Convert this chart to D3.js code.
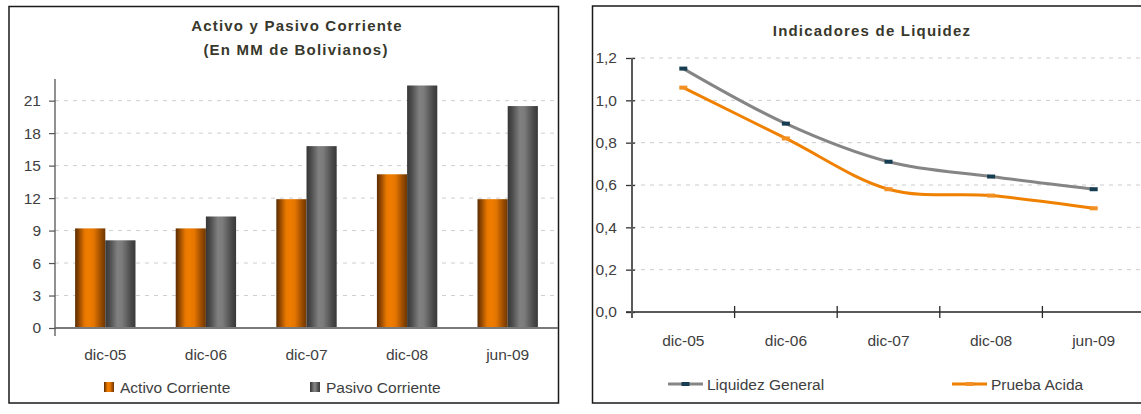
<!DOCTYPE html>
<html>
<head>
<meta charset="utf-8">
<script src="https://cdn.jsdelivr.net/npm/d3@7/dist/d3.min.js"></script>
<style>
  html, body { margin: 0; padding: 0; background: #ffffff; }
  svg { display: block; font-family: "Liberation Sans", Arial, sans-serif; }
</style>
</head>
<body>
<svg id="chart" width="1141" height="414"></svg>
<script>
// Periods shared by both panels
const categories = ["dic-05", "dic-06", "dic-07", "dic-08", "jun-09"];

// Left panel: current assets and liabilities (MM Bs)
const activoCorriente = [9.2, 9.2, 11.9, 14.2, 11.9];
const pasivoCorriente = [8.1, 10.3, 16.8, 22.4, 20.5];
const barTicks = [0, 3, 6, 9, 12, 15, 18, 21];
const barMax = 23;

// Right panel: liquidity ratios
const liquidezGeneral = [1.15, 0.89, 0.71, 0.64, 0.58];
const pruebaAcida = [1.06, 0.82, 0.58, 0.55, 0.49];
const lineTicks = [0, 0.2, 0.4, 0.6, 0.8, 1.0, 1.2];

const svg = d3.select("#chart");
const textColor = "#404040";
const titleColor = "#38382c";
const orange = "#f08000";
const grayLine = "#858585";
const labelSize = 15.5;

// ---------- gradients for the cylinder-like bars ----------
const defs = svg.append("defs");
function hGradient(id, stops) {
  const g = defs.append("linearGradient").attr("id", id)
    .attr("x1", "0%").attr("x2", "100%").attr("y1", "0%").attr("y2", "0%");
  stops.forEach(([o, c]) => g.append("stop").attr("offset", o).attr("stop-color", c));
}
hGradient("gradOrange", [["0%", "#5a2c00"], ["12%", "#8e4600"], ["32%", "#e87800"], ["45%", "#f07d00"], ["62%", "#e47500"], ["85%", "#9a4c00"], ["100%", "#6e3600"]]);
hGradient("gradGray", [["0%", "#363636"], ["15%", "#4c4c4c"], ["40%", "#808080"], ["55%", "#7c7c7c"], ["85%", "#4a4a4a"], ["100%", "#383838"]]);

// ---------- panel frames ----------
svg.append("rect").attr("x", 9).attr("y", 6.5).attr("width", 549.5).attr("height", 396.5)
  .attr("fill", "none").attr("stroke", "#1a1a1a").attr("stroke-width", 1.5);
svg.append("rect").attr("x", 592.5).attr("y", 6).attr("width", 600).attr("height", 397)
  .attr("fill", "none").attr("stroke", "#1a1a1a").attr("stroke-width", 1.5);

// ================= LEFT: grouped bars =================
const left = svg.append("g");
const xL = d3.scaleBand().domain(categories).range([55, 558]).paddingInner(0.4).paddingOuter(0.2);
const xS = d3.scaleBand().domain(["activo", "pasivo"]).range([0, xL.bandwidth()]);
const yL = d3.scaleLinear().domain([0, barMax]).range([328, 79]);

left.append("text").attr("x", 297).attr("y", 31).attr("text-anchor", "middle")
  .attr("font-size", 15).attr("font-weight", "bold").attr("letter-spacing", 1.2)
  .attr("fill", titleColor).text("Activo y Pasivo Corriente");
left.append("text").attr("x", 296).attr("y", 55).attr("text-anchor", "middle")
  .attr("font-size", 15).attr("font-weight", "bold").attr("letter-spacing", 1.2)
  .attr("fill", titleColor).text("(En MM de Bolivianos)");

// dashed gridlines
left.append("g").selectAll("line").data(barTicks.filter(d => d > 0)).join("line")
  .attr("x1", 55).attr("x2", 558)
  .attr("y1", d => yL(d)).attr("y2", d => yL(d))
  .attr("stroke", "#cfcfcf").attr("stroke-width", 1).attr("stroke-dasharray", "4,5");

// bars
const barRows = categories.map((c, i) => ({ c, activo: activoCorriente[i], pasivo: pasivoCorriente[i] }));
const groups = left.append("g").selectAll("g").data(barRows).join("g")
  .attr("transform", d => `translate(${xL(d.c)},0)`);
groups.selectAll("rect").data(d => [
  { key: "activo", v: d.activo },
  { key: "pasivo", v: d.pasivo }
]).join("rect")
  .attr("x", d => xS(d.key)).attr("width", xS.bandwidth())
  .attr("y", d => yL(d.v)).attr("height", d => yL(0) - yL(d.v))
  .attr("fill", d => d.key === "activo" ? "url(#gradOrange)" : "url(#gradGray)");

// baseline
left.append("line").attr("x1", 55).attr("x2", 558).attr("y1", yL(0)).attr("y2", yL(0))
  .attr("stroke", "#7a7a7a").attr("stroke-width", 2);

// y axis
const axL = left.append("g").attr("transform", "translate(55,0)")
  .call(d3.axisLeft(yL).tickValues(barTicks).tickSize(6).tickSizeOuter(0).tickPadding(8));
axL.select(".domain").remove();
axL.selectAll(".tick line").attr("stroke", "#555").attr("stroke-width", 1.2);
axL.selectAll(".tick text").attr("font-size", labelSize).attr("fill", textColor)
  .attr("font-family", "Liberation Sans, Arial, sans-serif");
left.append("line").attr("x1", 55).attr("x2", 55).attr("y1", 79).attr("y2", 336)
  .attr("stroke", "#555").attr("stroke-width", 1.3);

// category labels
left.append("g").selectAll("text").data(categories).join("text")
  .attr("x", d => xL(d) + xL.bandwidth() / 2).attr("y", 360)
  .attr("text-anchor", "middle").attr("font-size", labelSize).attr("fill", textColor).text(d => d);

// legend
const legL = [
  { label: "Activo Corriente", fill: "url(#gradOrange)", x: 104 },
  { label: "Pasivo Corriente", fill: "url(#gradGray)", x: 310 }
];
const lg = left.append("g").selectAll("g").data(legL).join("g");
lg.append("rect").attr("x", d => d.x).attr("y", 382).attr("width", 10).attr("height", 10)
  .attr("fill", d => d.fill);
lg.append("text").attr("x", d => d.x + 16).attr("y", 392.5).attr("font-size", labelSize)
  .attr("fill", textColor).text(d => d.label);

// ================= RIGHT: smoothed lines =================
const right = svg.append("g");
const xR = d3.scaleBand().domain(categories).range([632, 1145]).padding(0);
const cx = c => xR(c) + xR.bandwidth() / 2;
const yR = d3.scaleLinear().domain([0, 1.2]).range([312, 58]);
const fmtComma = v => d3.format(".1f")(v).replace(".", ",");

right.append("text").attr("x", 872).attr("y", 36).attr("text-anchor", "middle")
  .attr("font-size", 15).attr("font-weight", "bold").attr("letter-spacing", 1.2)
  .attr("fill", titleColor).text("Indicadores de Liquidez");

right.append("g").selectAll("line").data(lineTicks.filter(d => d > 0)).join("line")
  .attr("x1", 632).attr("x2", 1141)
  .attr("y1", d => yR(d)).attr("y2", d => yR(d))
  .attr("stroke", "#cccccc").attr("stroke-width", 1).attr("stroke-dasharray", "4,5");

// x axis line with category boundary ticks
right.append("line").attr("x1", 626).attr("x2", 1141).attr("y1", yR(0)).attr("y2", yR(0))
  .attr("stroke", "#5a5a5a").attr("stroke-width", 2);
right.append("g").selectAll("line").data(categories).join("line")
  .attr("x1", d => xR(d)).attr("x2", d => xR(d))
  .attr("y1", yR(0) - 6).attr("y2", yR(0) + 6)
  .attr("stroke", "#2a2a2a").attr("stroke-width", 1.3);

// y axis
const axR = right.append("g").attr("transform", "translate(632,0)")
  .call(d3.axisLeft(yR).tickValues(lineTicks).tickFormat(fmtComma).tickSize(6).tickSizeOuter(0).tickPadding(9));
axR.select(".domain").remove();
axR.selectAll(".tick line").attr("stroke", "#333").attr("stroke-width", 1.3).attr("x2", 3).attr("x1", -6);
axR.selectAll(".tick text").attr("font-size", labelSize).attr("fill", textColor)
  .attr("font-family", "Liberation Sans, Arial, sans-serif");
right.append("line").attr("x1", 632).attr("x2", 632).attr("y1", 58).attr("y2", 318)
  .attr("stroke", "#5a5a5a").attr("stroke-width", 2);

right.append("g").selectAll("text").data(categories).join("text")
  .attr("x", d => cx(d)).attr("y", 346)
  .attr("text-anchor", "middle").attr("font-size", labelSize).attr("fill", textColor).text(d => d);

// series
const series = [
  { name: "Liquidez General", values: liquidezGeneral, stroke: grayLine, marker: "#173d52" },
  { name: "Prueba Acida", values: pruebaAcida, stroke: orange, marker: "#f39024" }
];
const lineGen = d3.line().x(d => cx(d.c)).y(d => yR(d.v)).curve(d3.curveCatmullRom.alpha(0));
series.forEach(s => {
  const pts = categories.map((c, i) => ({ c, v: s.values[i] }));
  right.append("path").datum(pts).attr("d", lineGen)
    .attr("fill", "none").attr("stroke", s.stroke).attr("stroke-width", 3);
  right.append("g").selectAll("rect").data(pts).join("rect")
    .attr("x", d => cx(d.c) - 4).attr("y", d => yR(d.v) - 2)
    .attr("width", 8).attr("height", 4).attr("fill", s.marker);
});

// legend
const legR = [
  { s: series[0], x: 668 },
  { s: series[1], x: 952 }
];
const lr = right.append("g").selectAll("g").data(legR).join("g");
lr.append("line").attr("x1", d => d.x).attr("x2", d => d.x + 35).attr("y1", 384).attr("y2", 384)
  .attr("stroke", d => d.s.stroke).attr("stroke-width", 3);
lr.append("rect").attr("x", d => d.x + 13.5).attr("y", 382).attr("width", 8).attr("height", 4)
  .attr("fill", d => d.s.marker);
lr.append("text").attr("x", d => d.x + 39).attr("y", 389.5).attr("font-size", labelSize)
  .attr("fill", textColor).text(d => d.s.name);
</script>
</body>
</html>
